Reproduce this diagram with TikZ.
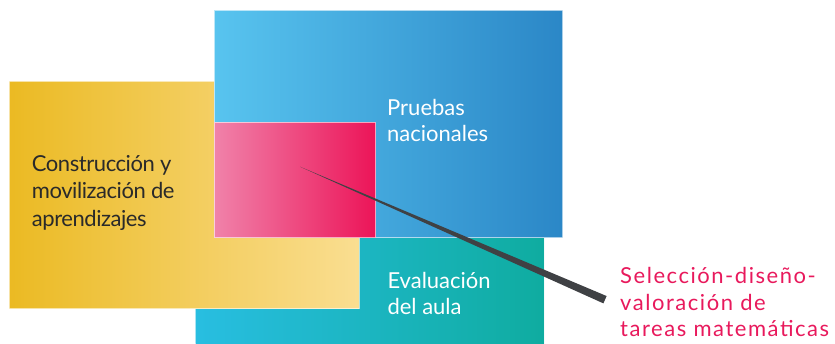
\documentclass[tikz,border=0pt]{standalone}
\usepackage{fontspec}
\setmainfont{Lato}
\newfontfamily\widelato[LetterSpace=7]{Lato}
\newfontfamily\tightlato[LetterSpace=-2]{Lato}
\usetikzlibrary{calc}
\definecolor{blueL}{RGB}{88,196,239}
\definecolor{blueR}{RGB}{43,135,199}
\definecolor{pinkL}{RGB}{240,130,170}
\definecolor{pinkR}{RGB}{236,20,88}
\definecolor{yelL}{RGB}{235,186,35}
\definecolor{yelR}{RGB}{250,222,145}
\definecolor{tealL}{RGB}{40,190,225}
\definecolor{tealR}{RGB}{15,172,160}
\definecolor{darktxt}{RGB}{42,42,42}
\definecolor{redtxt}{RGB}{232,25,92}
\definecolor{pointer}{RGB}{63,65,68}
\begin{document}
\begin{tikzpicture}[x=1pt,y=-1pt,
  edge/.style={draw=white,draw opacity=0.6,line width=0.9pt},
  lbl/.style={anchor=base west,inner sep=0pt,font=\fontsize{22}{26}\selectfont},
  redlbl/.style={lbl,text=redtxt,font=\widelato\fontsize{22}{26}\selectfont},
  darklbl/.style={lbl,text=darktxt,font=\tightlato\fontsize{22}{26}\selectfont}]
\useasboundingbox (0,0) rectangle (835,343);
\clip (0,0) rectangle (835,343);
% teal
\shade[left color=tealL,right color=tealR] (195.3,237) rectangle (544,350);
\draw[edge] (195.3,237) rectangle (544,350);
% yellow
\shade[left color=yelL,right color=yelR] (9.3,81.7) rectangle (359,308.7);
\draw[edge] (9.3,81.7) rectangle (359,308.7);
% blue
\shade[left color=blueL,right color=blueR] (214,10.7) rectangle (562.7,237);
\draw[edge] (214,10.7) rectangle (562.7,237);
% pink
\shade[left color=pinkL,right color=pinkR] (214,122.7) rectangle (375.7,237);
\draw[edge] (214,122.7) rectangle (375.7,237);
% texts
\node[lbl,text=white] (pn1) at (387,115) {Pruebas};
\node[lbl,text=white] (pn2) at (387,141.7) {nacionales};
\node[lbl,text=white] (ev1) at (387.3,288.3) {Evaluación};
\node[lbl,text=white] (ev2) at (387.3,314.5) {del aula};
\node[darklbl] (cm1) at (31.7,171) {Construcción y};
\node[darklbl] (cm2) at (31.7,198.3) {movilización de};
\node[darklbl] (cm3) at (31.7,226) {aprendizajes};
\node[redlbl] (sd1) at (620,283.3) {Selección-diseño-};
\node[redlbl] (sd2) at (620,310) {valoración de};
\node[redlbl] (sd3) at (620,336.7) {tareas matemáticas};
% pointer
\coordinate (ls) at (300,166.7);
\coordinate (le) at (605,299.7);
\fill[pointer] (ls) -- ($(le)+(-1.6,3.67)$) -- ($(le)+(1.6,-3.67)$) -- cycle;
\end{tikzpicture}
\end{document}
